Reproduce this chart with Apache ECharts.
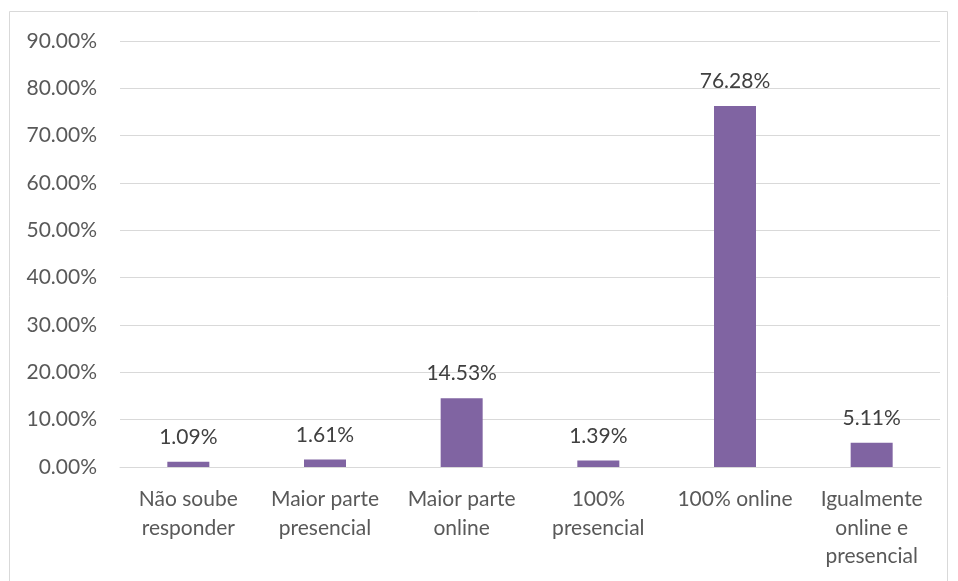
<!DOCTYPE html>
<html><head><meta charset="utf-8">
<script src="https://cdn.jsdelivr.net/npm/echarts@6/dist/echarts.min.js"></script>
<style>html,body{margin:0;padding:0;background:#fff}#c{width:958px;height:581px}</style>
</head><body><div id="c"></div>
<script>
const categories = ["Não soube\nresponder", "Maior parte\npresencial", "Maior parte\nonline", "100%\npresencial", "100% online", "Igualmente\nonline e\npresencial"];
const values = [1.09, 1.61, 14.53, 1.39, 76.28, 5.11];
const yTicks = {min: 0, max: 90, interval: 10};

const chart = echarts.init(document.getElementById('c'), null, {renderer: 'canvas'});
const font = "Lato, 'Open Sans', sans-serif";
chart.setOption({
  animation: false,
  graphic: [{type: 'rect', shape: {x: 9.5, y: 11.5, width: 938, height: 580}, style: {fill: 'none', stroke: '#d9d9d9', lineWidth: 1}}],
  grid: {left: 120, right: 18, top: 41, bottom: 114},
  xAxis: {
    type: 'category', data: categories,
    axisLine: {lineStyle: {color: '#d9d9d9'}},
    axisTick: {show: false},
    axisLabel: {color: '#595959', fontFamily: font, fontSize: 21, lineHeight: 28.5, margin: 18, interval: 0}
  },
  yAxis: {
    type: 'value', min: yTicks.min, max: yTicks.max, interval: yTicks.interval,
    axisLine: {show: false}, axisTick: {show: false},
    splitLine: {lineStyle: {color: '#d9d9d9'}},
    axisLabel: {color: '#595959', fontFamily: font, fontSize: 21, margin: 23, formatter: v => v.toFixed(2) + '%'}
  },
  series: [{
    type: 'bar', data: values, barWidth: 42,
    itemStyle: {color: '#8064a2'},
    label: {show: true, position: 'top', distance: 14, color: '#404040', fontFamily: font, fontSize: 21, formatter: p => p.value.toFixed(2) + '%'}
  }]
});
</script></body></html>
